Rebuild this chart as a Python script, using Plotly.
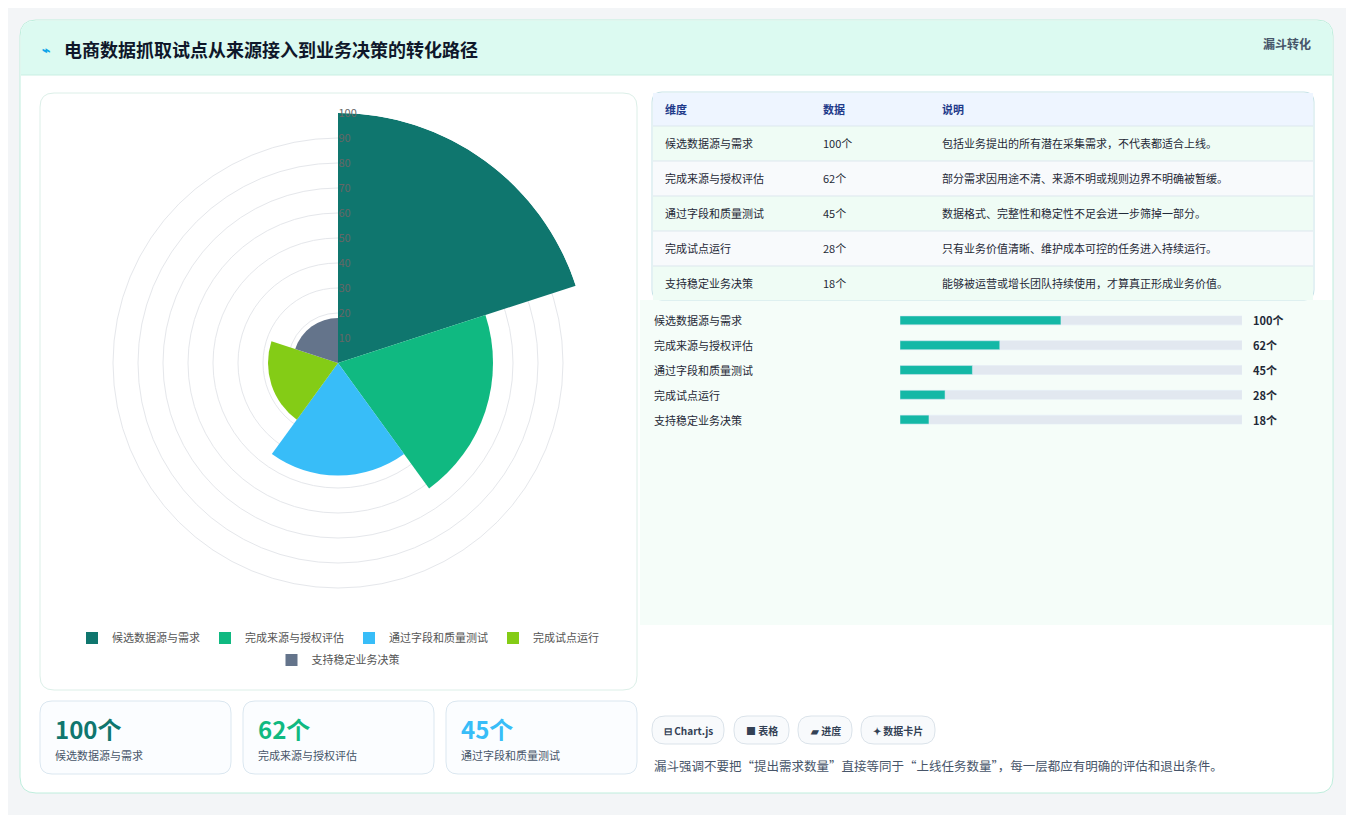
import plotly.graph_objects as go

W, H = 1354, 815
OFF = 8  # default page margin
stages = ["候选数据源与需求", "完成来源与授权评估", "通过字段和质量测试", "完成试点运行", "支持稳定业务决策"]
values = [100, 62, 45, 28, 18]
units = ["100个", "62个", "45个", "28个", "18个"]
notes = ["包括业务提出的所有潜在采集需求，不代表都适合上线。",
         "部分需求因用途不清、来源不明或规则边界不明确被暂缓。",
         "数据格式、完整性和稳定性不足会进一步筛掉一部分。",
         "只有业务价值清晰、维护成本可控的任务进入持续运行。",
         "能够被运营或增长团队持续使用，才算真正形成业务价值。"]
colors = ["#0f766e", "#10b981", "#38bdf8", "#84cc16", "#64748b"]
theta = [36, 108, 180, 252, 324]
FONT = "Noto Sans CJK SC"

def px(x): return (x - OFF) / W
def py(y): return 1 - (y - OFF) / H

fig = go.Figure()
for i, (s, v, t, c) in enumerate(zip(stages, values, theta, colors)):
    fig.add_trace(go.Barpolar(r=[v], theta=[t], width=[72], name=s, marker_color=c,
                              marker_line_width=0, hoverinfo="name+r",
                              legend="legend" if i < 4 else "legend2"))

track_max = 212.5
fig.add_trace(go.Bar(x=[track_max]*5, y=stages, orientation="h", xaxis="x", yaxis="y",
                     marker_color="#e2e8f0", width=0.36, showlegend=False, hoverinfo="skip"))
fig.add_trace(go.Bar(x=values, y=stages, orientation="h", xaxis="x", yaxis="y",
                     marker_color="#14b8a6", width=0.36, showlegend=False))

shapes = []
def rect(x0, y0, x1, y1, fill, line="rgba(0,0,0,0)", lw=1):
    shapes.append(dict(type="rect", xref="paper", yref="paper", x0=px(x0), x1=px(x1),
                       y0=py(y1), y1=py(y0), fillcolor=fill, line=dict(color=line, width=lw), layer="below"))
def rrect(x0, y0, x1, y1, r, fill, line="rgba(0,0,0,0)", lw=1):
    path = (f"M {px(x0+r)},{py(y0)} L {px(x1-r)},{py(y0)} Q {px(x1)},{py(y0)} {px(x1)},{py(y0+r)} "
            f"L {px(x1)},{py(y1-r)} Q {px(x1)},{py(y1)} {px(x1-r)},{py(y1)} L {px(x0+r)},{py(y1)} "
            f"Q {px(x0)},{py(y1)} {px(x0)},{py(y1-r)} L {px(x0)},{py(y0+r)} Q {px(x0)},{py(y0)} {px(x0+r)},{py(y0)} Z")
    shapes.append(dict(type="path", xref="paper", yref="paper", path=path, fillcolor=fill,
                       line=dict(color=line, width=lw), layer="below"))

rrect(20, 20, 1333, 793, 16, "#ffffff", "#bfeedd", 1)
rrect(21, 21, 1332, 75, 14, "#dcfaf1")
rect(21, 60, 1332, 75, "#dcfaf1")
shapes.append(dict(type="line", xref="paper", yref="paper", x0=px(21), x1=px(1332), y0=py(75), y1=py(75),
                   line=dict(color="#c9efe2", width=1), layer="below"))
rect(640, 300, 1332, 625, "#f5fdf9")
rrect(40, 93, 637, 690, 14, "#ffffff", "#dcefe8", 1)
rrect(652, 92, 1314, 300, 10, "#ffffff", "#c7e3e8", 1)
rect(653, 93, 1313, 126, "#eef5ff")
for i in range(5):
    y0 = 126 + 35 * i
    rect(653, y0, 1313, y0 + 34 if i == 4 else y0 + 35, "#effcf5" if i % 2 == 0 else "#f8fafc")
    shapes.append(dict(type="line", xref="paper", yref="paper", x0=px(653), x1=px(1313), y0=py(y0), y1=py(y0),
                       line=dict(color="#dde7ee", width=1), layer="below"))
for x0 in [40, 243, 446]:
    rrect(x0, 701, x0 + 191, 774, 12, "#fbfdff", "#dbe7f0", 1)
for x0, x1 in [(652, 724), (734, 789), (798, 852), (861, 935)]:
    rrect(x0, 716, x1, 744, 13, "#f8fafc", "#dbe3ea", 1)

ann = []
def text(x, y, s, size=12, color="#334155", anchor="left", bold=False):
    ann.append(dict(xref="paper", yref="paper", x=px(x), y=py(y), text=f"<b>{s}</b>" if bold else s,
                    showarrow=False, xanchor=anchor, yanchor="middle",
                    font=dict(size=size, color=color, family=FONT)))

text(40, 49, "⌁", 14, "#0ea5e9", bold=True)
text(62, 49, "电商数据抓取试点从来源接入到业务决策的转化路径", 18, "#0f172a", bold=True)
text(1313, 44, "漏斗转化", 12, "#475569", "right", bold=True)
for x, s in [(663, "维度"), (821, "数据"), (940, "说明")]:
    text(x, 109, s, 11, "#1e3a8a", bold=True)
for i in range(5):
    y = 143 + 35 * i
    text(663, y, stages[i], 11, "#1f2937")
    text(821, y, units[i], 11, "#1f2937")
    text(940, y, notes[i], 11, "#1f2937")
for i in range(5):
    y = 320 + 25 * i
    text(652, y, stages[i], 11, "#1f2937")
    text(1251, y, units[i], 11, "#1f2937", bold=True)
for x0, v, lab, c in zip([53, 256, 459], units[:3], stages[:3], colors[:3]):
    text(x0, 728, v, 24, c, bold=True)
    text(x0, 755, lab, 11, "#475569")
for x, s in [(662, "⊟ Chart.js"), (744, "■ 表格"), (808, "▰ 进度"), (871, "✦ 数据卡片")]:
    text(x, 730, s, 10, "#334155", bold=True)
text(652, 765, "漏斗强调不要把“提出需求数量”直接等同于“上线任务数量”，每一层都应有明确的评估和退出条件。", 12.5, "#475569")

leg = dict(orientation="h", xanchor="center", yanchor="middle", bgcolor="rgba(0,0,0,0)",
           font=dict(size=11, color="#555"), itemwidth=30, tracegroupgap=0)
fig.update_layout(
    width=W, height=H, margin=dict(l=0, r=0, t=0, b=0), showlegend=True,
    paper_bgcolor="#f3f5f7", plot_bgcolor="rgba(0,0,0,0)", shapes=shapes, annotations=ann,
    font=dict(family=FONT),
    polar=dict(domain=dict(x=[px(88), px(588)], y=[py(613), py(113)]), bgcolor="rgba(0,0,0,0)",
               angularaxis=dict(rotation=90, direction="clockwise", visible=False),
               radialaxis=dict(range=[0, 100], tickvals=list(range(10, 101, 10)), angle=90, tickangle=90,
                               showline=False, gridcolor="#e5e7eb", tickfont=dict(size=11, color="#666"),
                               ticks="")),
    xaxis=dict(domain=[px(900), px(1242)], range=[0, track_max], visible=False, fixedrange=True),
    yaxis=dict(domain=[py(432), py(308)], autorange="reversed", visible=False),
    barmode="overlay",
    legend=dict(leg, x=px(338), y=py(638)),
    legend2=dict(leg, x=px(338), y=py(660)),
)
fig.write_html("out.html")
